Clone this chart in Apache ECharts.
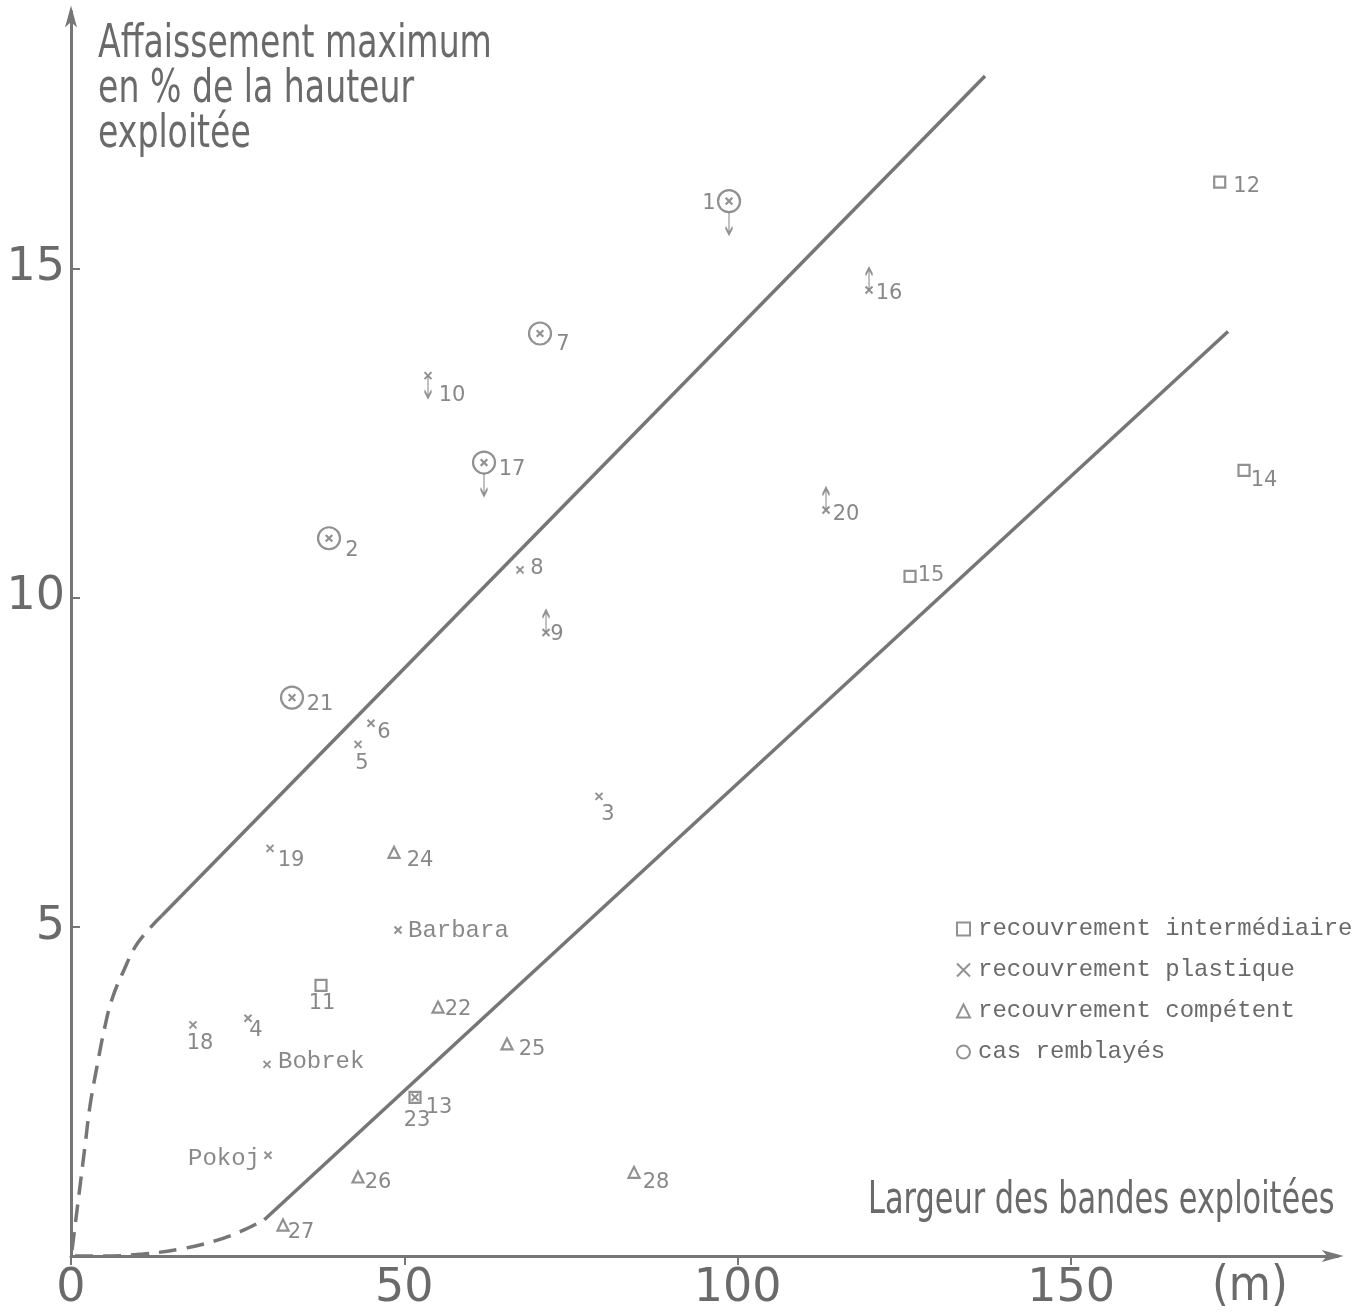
<!DOCTYPE html>
<html><head><meta charset="utf-8">
<script src="https://cdn.jsdelivr.net/npm/echarts@6/dist/echarts.min.js"></script>
<style>html,body{margin:0;padding:0;background:#fff}#c{width:1370px;height:1312px}</style>
</head><body><div id="c"></div>
<script>
// ---- axis ticks ----
const xTicks = [0, 50, 100, 150];
const yTicks = [5, 10, 15];

// ---- data: [label, largeur (m), affaissement (%)] ----
const recouvrementIntermediaire = [
  ['12', 172.3, 16.31], ['14', 175.95, 11.93], ['15', 125.85, 10.32],
  ['11', 37.5, 4.11], ['13', 51.6, 2.41]
];
const recouvrementPlastique = [
  ['16', 119.7, 14.67], ['10', 53.55, 13.37], ['20', 113.25, 11.33],
  ['8', 67.35, 10.42], ['9', 71.25, 9.47], ['6', 45.0, 8.09], ['5', 43.05, 7.77],
  ['3', 79.2, 6.98], ['19', 29.85, 6.19], ['Barbara', 49.05, 4.95],
  ['18', 18.3, 3.51], ['4', 26.55, 3.61], ['Bobrek', 29.4, 2.91],
  ['23', 51.6, 2.41], ['Pokoj', 29.55, 1.53]
];
const recouvrementCompetent = [
  ['24', 48.45, 6.13], ['22', 55.05, 3.78], ['25', 65.4, 3.22],
  ['26', 43.05, 1.2], ['28', 84.45, 1.27], ['27', 31.8, 0.47]
];
const casRemblayes = [
  ['1', 98.7, 16.02], ['7', 70.35, 14.01], ['17', 61.95, 12.05],
  ['2', 38.7, 10.9], ['21', 33.15, 8.48]
];
// bound direction (arrows)
const bornes = { '1': 'down', '17': 'down', '10': 'down', '16': 'up', '20': 'up', '9': 'up' };

// envelope lines
const limiteSupDroite = [[13.65, 5.17], [137.1, 17.92]];
const limiteSupCourbe = [[0.15, 0.09], [0.6, 0.45], [1.35, 1.06], [2.1, 1.67], [2.85, 2.28],
  [3.9, 2.88], [5.1, 3.49], [6.15, 3.9], [7.8, 4.31], [10.05, 4.76], [13.65, 5.17]];
const limiteInfDroite = [[29.0, 0.55], [173.55, 14.04]];
const limiteInfCourbe = [[0.6, 0.0], [5.1, 0.0], [10.8, 0.03], [16.65, 0.11], [21.6, 0.23],
  [25.6, 0.38], [29.0, 0.55]];

// ---- label layout (pixel offsets from marker centre) ----
const labelOffsets = {
  '1': [-20, 2], '12': [27, 5], '16': [20, 4], '7': [23, 11], '10': [24, 20],
  '17': [28, 7], '20': [20, 5], '14': [20, 10], '2': [23, 12], '8': [17, -1],
  '15': [21, -1], '9': [11, 2], '21': [28, 7], '6': [13, 9], '5': [4, 19],
  '3': [9, 18], '19': [21, 12], '24': [26, 8], 'Barbara': [10, 1], '11': [1, 18],
  '22': [20, 2], '18': [7, 19], '4': [8, 12], '25': [25, 6], 'Bobrek': [11, -3],
  '13': [24, 10], '23': [2, 23], 'Pokoj': [-8, 3], '26': [20, 6], '28': [22, 10],
  '27': [18, 7]
};
const wordLabels = { 'Barbara': 'left', 'Bobrek': 'left', 'Pokoj': 'right' };

const INK = '#767676';
const TXT = '#6a6a6a';
const SANS = "'DejaVu Sans',sans-serif";
const MONO = "'Liberation Mono','DejaVu Sans Mono',monospace";

const X_PATH = 'path://M0 0L10 10M10 0L0 10';
const CIRCLE_X = 'path://M21 11A10 10 0 1 1 1 11A10 10 0 1 1 21 11ZM8 8L14 14M14 8L8 14';
const ARROW_DOWN = 'path://M5 0L5 22M1.5 15L5 22L8.5 15';
const ARROW_UP = 'path://M5 22L5 0M1.5 7L5 0L8.5 7';

function toItems(arr) {
  return arr.map(function (d) {
    const off = labelOffsets[d[0]] || [15, 0];
    const isWord = !!wordLabels[d[0]];
    return {
      name: d[0], value: [d[1], d[2]],
      label: {
        show: true, position: 'inside', offset: off,
        align: isWord ? wordLabels[d[0]] : 'center', verticalAlign: 'middle',
        formatter: d[0],
        fontFamily: isWord ? MONO : SANS,
        fontSize: isWord ? 24 : 21,
        color: TXT
      }
    };
  });
}

function arrowItems() {
  const out = [];
  const groups = [[recouvrementPlastique, 0], [casRemblayes, 11]];
  groups.forEach(function (g) {
    g[0].forEach(function (d) {
      const dir = bornes[d[0]];
      if (!dir) return;
      const len = 22;
      const dy = g[1] + len / 2;
      out.push({
        value: [d[1], d[2]],
        symbol: dir === 'down' ? ARROW_DOWN : ARROW_UP,
        symbolSize: [7, len],
        symbolOffset: [0, dir === 'down' ? dy : -dy]
      });
    });
  });
  return out;
}

const hollow = { color: 'rgba(0,0,0,0)', borderColor: INK, borderWidth: 2.2 };

const chart = echarts.init(document.getElementById('c'), null, { renderer: 'canvas' });
chart.setOption({
  animation: false,
  backgroundColor: '#fff',
  grid: { left: 71, right: 32.3, top: 11.5, bottom: 55 },
  xAxis: {
    type: 'value', min: 0, max: 190,
    axisLine: { lineStyle: { color: INK, width: 3 }, symbol: ['none', 'arrow'], symbolSize: [9, 22], symbolOffset: [0, 6] },
    axisTick: { show: true, length: 9, customValues: xTicks, lineStyle: { color: INK, width: 2 } },
    axisLabel: { customValues: xTicks, fontFamily: SANS, fontSize: 46, color: TXT, margin: 10 },
    splitLine: { show: false }
  },
  yAxis: {
    type: 'value', min: 0, max: 18.9,
    axisLine: { lineStyle: { color: INK, width: 3 }, symbol: ['none', 'arrow'], symbolSize: [9, 22], symbolOffset: [0, 6] },
    axisTick: { show: true, length: 9, customValues: yTicks, inside: true, lineStyle: { color: INK, width: 2 } },
    axisLabel: { customValues: yTicks, fontFamily: SANS, fontSize: 46, color: TXT, margin: 6 },
    splitLine: { show: false }
  },
  legend: {
    orient: 'vertical', left: 951, top: 912, itemGap: 17, itemWidth: 13, itemHeight: 13,
    textStyle: { fontFamily: MONO, fontSize: 24, color: TXT, padding: [0, 0, 0, 3] },
    data: [
      { name: 'recouvrement intermédiaire', icon: 'rect' },
      { name: 'recouvrement plastique', icon: X_PATH },
      { name: 'recouvrement compétent', icon: 'triangle' },
      { name: 'cas remblayés', icon: 'circle' }
    ]
  },
  graphic: [
    { type: 'text', left: 98, top: 22, scaleX: 0.72, style: { text: 'Affaissement maximum\nen % de la hauteur\nexploitée', font: '46px ' + SANS, fill: TXT, lineHeight: 45 } },
    { type: 'text', left: 868, top: 1180, scaleX: 0.69, style: { text: 'Largeur des bandes exploitées', font: '44px ' + SANS, fill: TXT } },
    { type: 'text', left: 1212, top: 1264, scaleX: 0.9, style: { text: '(m)', font: '48px ' + SANS, fill: TXT } }
  ],
  series: [
    { type: 'line', data: limiteSupDroite, showSymbol: false, silent: true, lineStyle: { color: INK, width: 3.5 }, z: 1 },
    { type: 'line', data: limiteSupCourbe, showSymbol: false, silent: true, smooth: 0.4, lineStyle: { color: INK, width: 3.5, type: [18, 10] }, z: 1 },
    { type: 'line', data: limiteInfDroite, showSymbol: false, silent: true, lineStyle: { color: INK, width: 3.5 }, z: 1 },
    { type: 'line', data: limiteInfCourbe, showSymbol: false, silent: true, smooth: 0.4, lineStyle: { color: INK, width: 3.5, type: [18, 10] }, z: 1 },
    { name: 'recouvrement intermédiaire', type: 'scatter', symbol: 'rect', symbolSize: 11, itemStyle: hollow, data: toItems(recouvrementIntermediaire), z: 3 },
    { name: 'recouvrement plastique', type: 'scatter', symbol: X_PATH, symbolSize: 7, itemStyle: { color: 'rgba(0,0,0,0)', borderColor: INK, borderWidth: 2 }, data: toItems(recouvrementPlastique), z: 3 },
    { name: 'recouvrement compétent', type: 'scatter', symbol: 'triangle', symbolSize: 11, itemStyle: hollow, data: toItems(recouvrementCompetent), z: 3 },
    { name: 'cas remblayés', type: 'scatter', symbol: CIRCLE_X, symbolSize: 22, itemStyle: hollow, data: toItems(casRemblayes), z: 3 },
    { name: 'bornes', type: 'scatter', itemStyle: { color: 'rgba(0,0,0,0)', borderColor: INK, borderWidth: 2 }, data: arrowItems(), z: 2, silent: true }
  ]
});
</script>
</body></html>
